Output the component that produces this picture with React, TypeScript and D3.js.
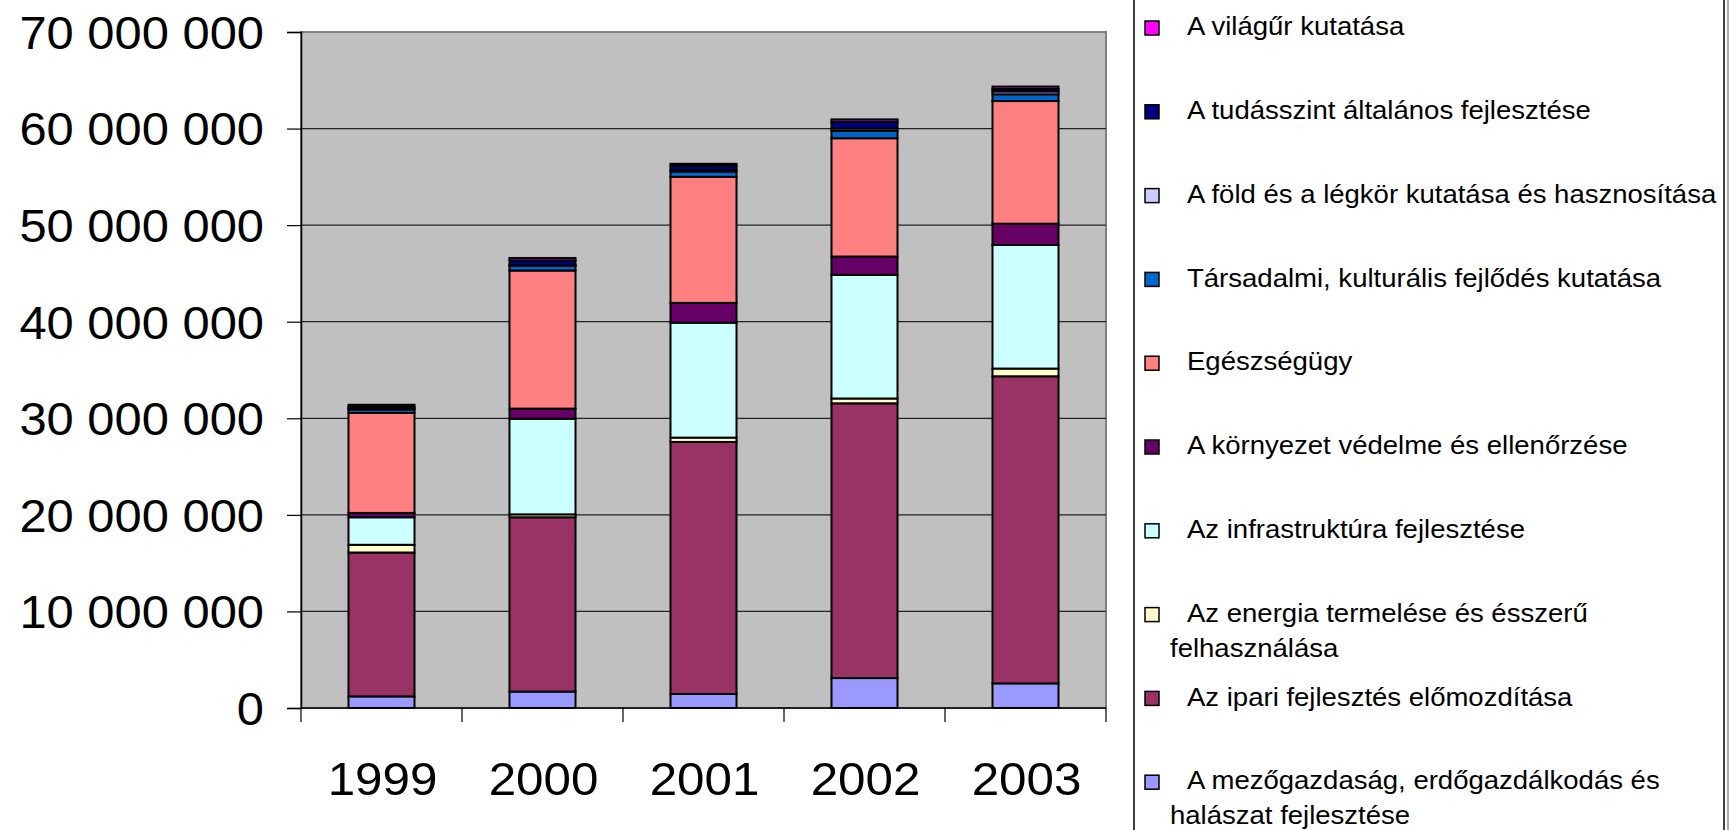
import { useRef, useEffect } from 'react'
import * as d3 from 'd3'

const years = ['1999', '2000', '2001', '2002', '2003']

// series, bottom of the stack first
const mezogazdasag = [1200000, 1700000, 1450000, 3100000, 2550000]
const ipari = [14900000, 18050000, 26100000, 28450000, 31800000]
const energia = [800000, 300000, 450000, 500000, 800000]
const infrastruktura = [2850000, 9900000, 11900000, 12800000, 12800000]
const kornyezet = [450000, 1050000, 2050000, 1900000, 2200000]
const egeszsegugy = [10350000, 14300000, 13050000, 12250000, 12700000]
const tarsadalmi = [350000, 500000, 550000, 750000, 700000]
const fold = [100000, 50000, 150000, 250000, 300000]
const tudasszint = [200000, 500000, 450000, 700000, 250000]
const vilagur = [200000, 250000, 200000, 250000, 250000]

const seriesNames = [
  'A mezőgazdaság, erdőgazdálkodás és halászat fejlesztése',
  'Az ipari fejlesztés előmozdítása',
  'Az energia termelése és ésszerű felhasználása',
  'Az infrastruktúra fejlesztése',
  'A környezet védelme és ellenőrzése',
  'Egészségügy',
  'Társadalmi, kulturális fejlődés kutatása',
  'A föld és a légkör kutatása és hasznosítása',
  'A tudásszint általános fejlesztése',
  'A világűr kutatása',
]
const seriesValues = [mezogazdasag, ipari, energia, infrastruktura, kornyezet, egeszsegugy, tarsadalmi, fold, tudasszint, vilagur]
const seriesColors = ['#9999FF', '#993366', '#FFFFCC', '#CCFFFF', '#660066', '#FF8080', '#0066CC', '#CCCCFF', '#000080', '#FF00FF']

// legend lines, top to bottom (wrapped like the original)
const legendLines = [
  ['A világűr kutatása'],
  ['A tudásszint általános fejlesztése'],
  ['A föld és a légkör kutatása és hasznosítása'],
  ['Társadalmi, kulturális fejlődés kutatása'],
  ['Egészségügy'],
  ['A környezet védelme és ellenőrzése'],
  ['Az infrastruktúra fejlesztése'],
  ['Az energia termelése és ésszerű', 'felhasználása'],
  ['Az ipari fejlesztés előmozdítása'],
  ['A mezőgazdaság, erdőgazdálkodás és', 'halászat fejlesztése'],
]

const yTicks = [0, 10000000, 20000000, 30000000, 40000000, 50000000, 60000000, 70000000]

const W = 1731
const H = 830
const FONT = '"Liberation Sans", Arial, sans-serif'

export default function App() {
  const svgRef = useRef<SVGSVGElement>(null)

  useEffect(() => {
    const svg = d3.select(svgRef.current)
    svg.selectAll('*').remove()

    const plot = { left: 301, right: 1106, top: 32, bottom: 708 }

    const x = d3.scaleBand()
      .domain(years)
      .range([plot.left, plot.right])
      .paddingInner(0.59)
      .paddingOuter(0.295)

    const y = d3.scaleLinear()
      .domain([0, 70000000])
      .range([plot.bottom, plot.top])

    // plot background
    svg.append('rect')
      .attr('x', plot.left)
      .attr('y', plot.top)
      .attr('width', plot.right - plot.left)
      .attr('height', plot.bottom - plot.top)
      .attr('fill', '#c0c0c0')
      .attr('stroke', '#808080')
      .attr('stroke-width', 2)

    // grid lines
    svg.append('g')
      .selectAll('line')
      .data(yTicks.slice(1, -1))
      .enter()
      .append('line')
      .attr('x1', plot.left)
      .attr('x2', plot.right)
      .attr('y1', d => y(d))
      .attr('y2', d => y(d))
      .attr('stroke', '#222')
      .attr('stroke-width', 1.2)

    // y axis
    const yAxis = svg.append('g')
      .attr('transform', `translate(${plot.left},0)`)
      .call(d3.axisLeft(y).tickValues(yTicks).tickSize(14).tickFormat(() => ''))
    yAxis.select('.domain').attr('stroke', '#000').attr('stroke-width', 1.5)
    yAxis.selectAll('.tick line').attr('stroke', '#000').attr('stroke-width', 1.2)

    const fmt = d3.format(',')
    svg.append('g')
      .selectAll('text')
      .data(yTicks)
      .enter()
      .append('text')
      .attr('transform', d => `translate(264,${y(d)}) scale(1.04,1)`)
      .attr('dy', '0.36em')
      .attr('text-anchor', 'end')
      .attr('font-family', FONT)
      .attr('font-size', 47)
      .attr('fill', '#000')
      .text(d => fmt(d).replace(/,/g, ' '))

    // x axis
    const step = x.step()
    const boundaries = d3.range(years.length + 1).map(i => plot.left + i * step)
    svg.append('line')
      .attr('x1', plot.left)
      .attr('x2', plot.right)
      .attr('y1', plot.bottom)
      .attr('y2', plot.bottom)
      .attr('stroke', '#000')
      .attr('stroke-width', 1.5)
    svg.append('g')
      .selectAll('line')
      .data(boundaries)
      .enter()
      .append('line')
      .attr('x1', d => d)
      .attr('x2', d => d)
      .attr('y1', plot.bottom)
      .attr('y2', plot.bottom + 14)
      .attr('stroke', '#000')
      .attr('stroke-width', 1.2)

    svg.append('g')
      .selectAll('text')
      .data(years)
      .enter()
      .append('text')
      .attr('transform', d => `translate(${x(d)! + x.bandwidth() / 2 + 1},778) scale(1.05,1)`)
      .attr('dy', '0.36em')
      .attr('text-anchor', 'middle')
      .attr('font-family', FONT)
      .attr('font-size', 47)
      .attr('fill', '#000')
      .text(d => d)

    // stacked bars
    const table = years.map((yr, i) => {
      const row: Record<string, number | string> = { year: yr }
      seriesNames.forEach((n, s) => { row[n] = seriesValues[s][i] })
      return row
    })
    const stacked = d3.stack<Record<string, number | string>>()
      .keys(seriesNames)
      .value((d, k) => d[k] as number)(table)

    const layers = svg.append('g')
      .selectAll('g')
      .data(stacked)
      .enter()
      .append('g')
      .attr('fill', (_, i) => seriesColors[i])

    layers.selectAll('rect')
      .data(d => d)
      .enter()
      .append('rect')
      .attr('x', d => x(d.data.year as string)!)
      .attr('width', x.bandwidth())
      .attr('y', d => y(d[1]))
      .attr('height', d => y(d[0]) - y(d[1]))
      .attr('stroke', '#000')
      .attr('stroke-width', 2)

    // legend box (runs past the top and bottom of the picture)
    svg.append('rect')
      .attr('x', 1134)
      .attr('y', -10)
      .attr('width', 590)
      .attr('height', H + 20)
      .attr('fill', '#fff')
      .attr('stroke', '#000')
      .attr('stroke-width', 1.5)
    svg.append('line')
      .attr('x1', 1728)
      .attr('x2', 1728)
      .attr('y1', 0)
      .attr('y2', H)
      .attr('stroke', '#555')
      .attr('stroke-width', 1)

    const legendTop = 26
    const legendStep = 83.8
    const legendColors = seriesColors.slice().reverse()
    const item = svg.append('g')
      .selectAll('g')
      .data(legendLines)
      .enter()
      .append('g')
      .attr('transform', (_, i) => `translate(0,${legendTop + i * legendStep})`)

    item.append('rect')
      .attr('x', 1145)
      .attr('y', -5)
      .attr('width', 14)
      .attr('height', 14)
      .attr('fill', (_, i) => legendColors[i])
      .attr('stroke', '#000')
      .attr('stroke-width', 1.5)

    item.each(function (lines) {
      const g = d3.select(this)
      lines.forEach((ln, j) => {
        g.append('text')
          .attr('transform', `translate(${j === 0 ? 1187 : 1170},${j * 35}) scale(1.08,1)`)
          .attr('dy', '0.36em')
          .attr('font-family', FONT)
          .attr('font-size', 25.5)
          .attr('fill', '#000')
          .text(ln)
      })
    })
  }, [])

  return (
    <svg ref={svgRef} width={W} height={H} style={{ position: 'absolute', left: 0, top: 0, background: '#fff' }} />
  )
}
